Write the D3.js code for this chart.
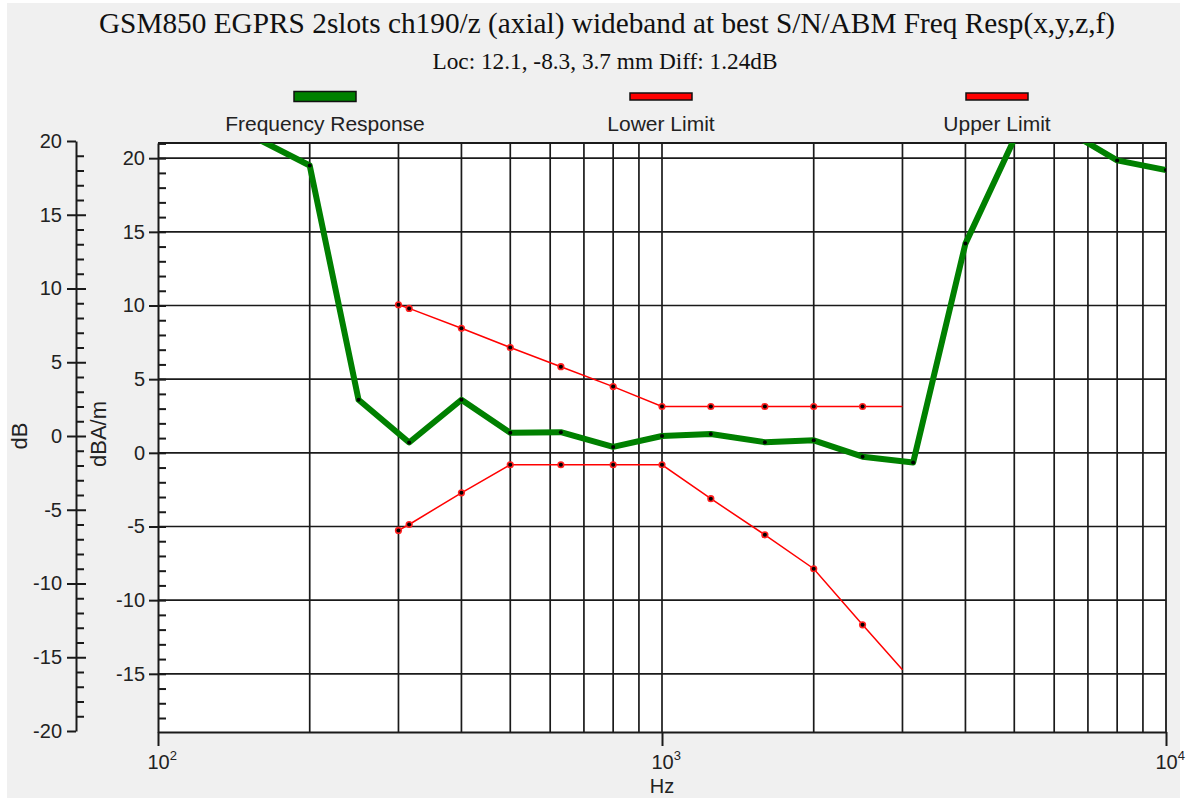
<!DOCTYPE html>
<html>
<head>
<meta charset="utf-8">
<script src="https://cdn.jsdelivr.net/npm/d3@7"></script>
<style>
  html, body { margin: 0; padding: 0; background: #ffffff; }
  svg { display: block; }
  text { font-family: "Liberation Sans", Arial, sans-serif; fill: #222; }
  .serif { font-family: "Liberation Serif", "Times New Roman", serif; fill: #111; }
</style>
</head>
<body>
<svg id="chart" width="1195" height="798"></svg>
<script>
// Measured frequency response (dBA/m, right-hand inner axis)
const respFreqs = [160, 200, 250, 315, 400, 500, 630, 800, 1000, 1250, 1600, 2000, 2500, 3150, 4000, 5000, 6300, 8000, 10000];
const respValues = [21.2, 19.5, 3.6, 0.7, 3.6, 1.36, 1.4, 0.4, 1.14, 1.28, 0.72, 0.85, -0.26, -0.66, 14.2, 21.3, 21.95, 19.85, 19.2];

// Limit masks relative to the 1 kHz level (dB, outer axis)
const limitFreqs = [300, 315, 400, 500, 630, 800, 1000, 1250, 1600, 2000, 2500, 3000];
const lowerLimit = [-6.4, -6.0, -3.85, -1.95, -1.95, -1.95, -1.95, -4.25, -6.7, -9.0, -12.8, -15.85];
const upperLimit = [8.9, 8.65, 7.3, 6.0, 4.7, 3.35, 2.0, 2.0, 2.0, 2.0, 2.0, 2.0];

// Axis ticks
const decadeTicks = [100, 1000, 10000];
const relMajorTicks = [-20, -15, -10, -5, 0, 5, 10, 15, 20];
const absMajorTicks = [-15, -10, -5, 0, 5, 10, 15, 20];

const titleText = "GSM850 EGPRS 2slots ch190/z (axial) wideband at best S/N/ABM Freq Resp(x,y,z,f)";
const subtitleText = "Loc: 12.1, -8.3, 3.7 mm Diff: 1.24dB";
const legendItems = [
  { name: "Frequency Response", color: "#008000", cx: 325, h: 10 },
  { name: "Lower Limit", color: "#ff0000", cx: 661, h: 7 },
  { name: "Upper Limit", color: "#ff0000", cx: 997, h: 7 }
];

const svg = d3.select("#chart");
const W = 1195, H = 798;
const plot = { left: 158, right: 1166, top: 143, bottom: 732 };

// panel background
svg.append("rect").attr("x", 0).attr("y", 0).attr("width", W).attr("height", H).attr("fill", "#ffffff");
svg.append("rect").attr("x", 7).attr("y", 3).attr("width", 1173).attr("height", 795).attr("fill", "#f0f0f0");

// scales
const x = d3.scaleLog().domain([100, 10000]).range([plot.left, plot.right]);
const yAbs = d3.scaleLinear().domain([-18.95, 21.03]).range([plot.bottom, plot.top]);
const yRel = d3.scaleLinear().domain([-20, 20]).range([731, 141]);

const fmt = v => String(v).replace("\u2212", "-");

// plot area
svg.append("rect")
  .attr("x", plot.left).attr("y", plot.top)
  .attr("width", plot.right - plot.left).attr("height", plot.bottom - plot.top)
  .attr("fill", "#ffffff");

// grid
const gridColor = "#1a1a1a";
const vGrid = [];
[100, 1000].forEach(d => { for (let k = 2; k <= 9; k++) vGrid.push(d * k); });
vGrid.push(1000);
svg.append("g").selectAll("line").data(vGrid).join("line")
  .attr("x1", d => x(d)).attr("x2", d => x(d))
  .attr("y1", plot.top).attr("y2", plot.bottom)
  .attr("stroke", gridColor).attr("stroke-width", 1.7);
svg.append("g").selectAll("line").data(absMajorTicks).join("line")
  .attr("x1", plot.left).attr("x2", plot.right)
  .attr("y1", d => yAbs(d)).attr("y2", d => yAbs(d))
  .attr("stroke", gridColor).attr("stroke-width", 1.7);

// frame (top and right)
svg.append("path")
  .attr("d", `M${plot.left},${plot.top}H${plot.right}V${plot.bottom}`)
  .attr("fill", "none").attr("stroke", gridColor).attr("stroke-width", 1.8);

// x axis
const xAxis = svg.append("g").attr("transform", `translate(0,${plot.bottom})`)
  .call(d3.axisBottom(x).tickValues(decadeTicks).tickSize(14).tickSizeOuter(0).tickFormat(""));
xAxis.select(".domain").attr("stroke", gridColor).attr("stroke-width", 2);
xAxis.selectAll(".tick line").attr("stroke", gridColor).attr("stroke-width", 2);
xAxis.selectAll(".tick").each(function(d) {
  const t = d3.select(this).append("text")
    .attr("x", -11).attr("y", 37).attr("text-anchor", "start")
    .attr("font-size", 20).attr("fill", "#2a1f3a");
  t.append("tspan").text("10");
  t.append("tspan").attr("dy", -9).attr("font-size", 13).text(Math.round(Math.log10(d)));
});
svg.append("text").attr("x", x(1000)).attr("y", 793).attr("text-anchor", "middle")
  .attr("font-size", 20).text("Hz");

// inner axis (dBA/m)
const absAxis = svg.append("g").attr("transform", `translate(${plot.left},0)`)
  .call(d3.axisLeft(yAbs).tickValues(absMajorTicks).tickSize(9).tickSizeOuter(0).tickPadding(4).tickFormat(fmt));
absAxis.select(".domain").attr("stroke", gridColor).attr("stroke-width", 2);
absAxis.selectAll(".tick line").attr("stroke", gridColor).attr("stroke-width", 2);
absAxis.selectAll(".tick text").attr("font-size", 20).attr("fill", "#2a1f3a")
  .attr("font-family", "Liberation Sans, Arial, sans-serif");
const absMinor = svg.append("g").attr("transform", `translate(${plot.left},0)`)
  .call(d3.axisRight(yAbs).tickValues(d3.range(-18, 22, 1)).tickSize(8).tickSizeOuter(0).tickFormat(""));
absMinor.select(".domain").remove();
absMinor.selectAll(".tick line").attr("stroke", gridColor).attr("stroke-width", 2);

// outer axis (dB relative)
const relAxis = svg.append("g").attr("transform", "translate(76,0)")
  .call(d3.axisLeft(yRel).tickValues(relMajorTicks).tickSize(9).tickSizeOuter(0).tickPadding(5).tickFormat(fmt));
relAxis.select(".domain").attr("stroke", gridColor).attr("stroke-width", 2);
relAxis.selectAll(".tick line").attr("stroke", gridColor).attr("stroke-width", 2);
relAxis.selectAll(".tick text").attr("font-size", 20).attr("fill", "#2a1f3a")
  .attr("font-family", "Liberation Sans, Arial, sans-serif");
const relMinor = svg.append("g").attr("transform", "translate(76,0)")
  .call(d3.axisRight(yRel).tickValues(d3.range(-19, 20, 1)).tickSizeOuter(0).tickFormat(""));
relMinor.select(".domain").remove();
relMinor.selectAll(".tick line")
  .attr("x2", d => (d % 5 === 0 ? 10 : 8))
  .attr("stroke", gridColor).attr("stroke-width", 2);

// axis titles
svg.append("text").attr("transform", "translate(27,436) rotate(-90)")
  .attr("text-anchor", "middle").attr("font-size", 22).text("dB");
svg.append("text").attr("transform", "translate(106,434) rotate(-90)")
  .attr("text-anchor", "middle").attr("font-size", 22).text("dBA/m");

// series
svg.append("clipPath").attr("id", "plotClip").append("rect")
  .attr("x", plot.left).attr("y", plot.top)
  .attr("width", plot.right - plot.left).attr("height", plot.bottom - plot.top);
const series = svg.append("g").attr("clip-path", "url(#plotClip)");

const limitLine = d3.line().x(d => x(d[0])).y(d => yRel(d[1]));
[lowerLimit, upperLimit].forEach(vals => {
  const pts = limitFreqs.map((f, i) => [f, vals[i]]);
  series.append("path").datum(pts).attr("d", limitLine)
    .attr("fill", "none").attr("stroke", "#ff0000").attr("stroke-width", 1.5);
  const marks = pts.slice(0, -1);
  series.append("g").selectAll("circle").data(marks).join("circle")
    .attr("cx", d => x(d[0])).attr("cy", d => yRel(d[1])).attr("r", 3.6).attr("fill", "#ff2020");
  series.append("g").selectAll("circle").data(marks).join("circle")
    .attr("cx", d => x(d[0])).attr("cy", d => yRel(d[1])).attr("r", 2).attr("fill", "#000");
});

const respPts = respFreqs.map((f, i) => [f, respValues[i]]);
series.append("path").datum(respPts)
  .attr("d", d3.line().x(d => x(d[0])).y(d => yAbs(d[1])))
  .attr("fill", "none").attr("stroke", "#008000").attr("stroke-width", 6)
  .attr("stroke-linejoin", "round");
series.append("g").selectAll("circle").data(respPts).join("circle")
  .attr("cx", d => x(d[0])).attr("cy", d => yAbs(d[1])).attr("r", 2).attr("fill", "#000");

// titles
svg.append("text").attr("class", "serif").attr("x", 607).attr("y", 33)
  .attr("text-anchor", "middle").attr("font-size", 29.3).text(titleText);
svg.append("text").attr("class", "serif").attr("x", 605).attr("y", 69)
  .attr("text-anchor", "middle").attr("font-size", 23.3).text(subtitleText);

// legend
const leg = svg.append("g").selectAll("g").data(legendItems).join("g");
leg.append("rect")
  .attr("x", d => d.cx - 31).attr("y", d => 96.5 - d.h / 2)
  .attr("width", 62).attr("height", d => d.h)
  .attr("fill", d => d.color).attr("stroke", "#111").attr("stroke-width", 1.5);
leg.append("text")
  .attr("x", d => d.cx).attr("y", 131).attr("text-anchor", "middle")
  .attr("font-size", 21).text(d => d.name);
</script>
</body>
</html>
